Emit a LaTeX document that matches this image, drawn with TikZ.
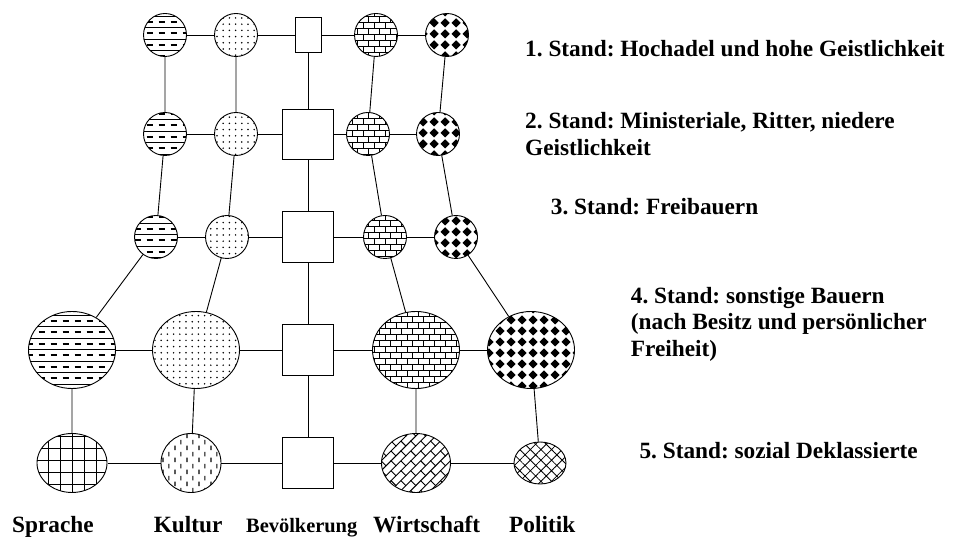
\documentclass[tikz,border=0pt]{standalone}
\usepackage{fontspec}
\setmainfont{Liberation Serif}
\usetikzlibrary{shapes.geometric,patterns,patterns.meta}
\frenchspacing

\pgfdeclarepattern{
  name=sprachmuster, type=uncolored,
  bottom left={\pgfpoint{-1pt}{-1pt}}, top right={\pgfpoint{13pt}{12pt}},
  tile size={\pgfpoint{12pt}{11.5pt}},
  code={
    \pgfsetlinewidth{0.4pt}
    \pgfpathmoveto{\pgfpoint{-0.5pt}{0pt}}\pgfpathlineto{\pgfpoint{12.5pt}{0pt}}
    \pgfusepath{stroke}
    \pgfsetlinewidth{1.6pt}
    \pgfpathmoveto{\pgfpoint{2.5pt}{5.75pt}}\pgfpathlineto{\pgfpoint{8.5pt}{5.75pt}}
    \pgfusepath{stroke}
  }
}
\pgfdeclarepattern{
  name=ziegel, type=uncolored,
  bottom left={\pgfpoint{-1pt}{-1pt}}, top right={\pgfpoint{12pt}{13pt}},
  tile size={\pgfpoint{11pt}{12pt}},
  code={
    \pgfsetlinewidth{1pt}
    \pgfpathmoveto{\pgfpoint{-0.5pt}{0pt}}\pgfpathlineto{\pgfpoint{11.5pt}{0pt}}
    \pgfpathmoveto{\pgfpoint{-0.5pt}{6pt}}\pgfpathlineto{\pgfpoint{11.5pt}{6pt}}
    \pgfpathmoveto{\pgfpoint{0pt}{0pt}}\pgfpathlineto{\pgfpoint{0pt}{6pt}}
    \pgfpathmoveto{\pgfpoint{5.5pt}{6pt}}\pgfpathlineto{\pgfpoint{5.5pt}{12pt}}
    \pgfusepath{stroke}
  }
}
\pgfdeclarepattern{
  name=ziegelschraeg, type=uncolored,
  bottom left={\pgfpoint{-1pt}{-1pt}}, top right={\pgfpoint{15pt}{15pt}},
  tile size={\pgfpoint{14pt}{14pt}},
  tile transformation={\pgftransformrotate{45}},
  code={
    \pgfsetlinewidth{0.9pt}
    \pgfpathmoveto{\pgfpoint{-0.5pt}{0pt}}\pgfpathlineto{\pgfpoint{14.5pt}{0pt}}
    \pgfpathmoveto{\pgfpoint{-0.5pt}{7pt}}\pgfpathlineto{\pgfpoint{14.5pt}{7pt}}
    \pgfpathmoveto{\pgfpoint{0pt}{0pt}}\pgfpathlineto{\pgfpoint{0pt}{7pt}}
    \pgfpathmoveto{\pgfpoint{7pt}{7pt}}\pgfpathlineto{\pgfpoint{7pt}{14pt}}
    \pgfusepath{stroke}
  }
}
\pgfdeclarepattern{
  name=rauten, type=uncolored,
  bottom left={\pgfpoint{0pt}{0pt}}, top right={\pgfpoint{11pt}{11pt}},
  tile size={\pgfpoint{11pt}{11pt}},
  code={
    \pgfpathmoveto{\pgfpoint{5.5pt}{0.6pt}}
    \pgfpathlineto{\pgfpoint{10.4pt}{5.5pt}}
    \pgfpathlineto{\pgfpoint{5.5pt}{10.4pt}}
    \pgfpathlineto{\pgfpoint{0.6pt}{5.5pt}}
    \pgfpathclose
    \pgfusepath{fill}
  }
}
\pgfdeclarepattern{
  name=striche, type=uncolored,
  bottom left={\pgfpoint{0pt}{0pt}}, top right={\pgfpoint{12.4pt}{11.6pt}},
  tile size={\pgfpoint{12.4pt}{11.6pt}},
  code={
    \pgfsetlinewidth{1.1pt}
    \pgfpathmoveto{\pgfpoint{3.1pt}{1pt}}\pgfpathlineto{\pgfpoint{3.1pt}{5.6pt}}
    \pgfpathmoveto{\pgfpoint{9.3pt}{6.8pt}}\pgfpathlineto{\pgfpoint{9.3pt}{11.4pt}}
    \pgfusepath{stroke}
  }
}

\begin{document}
\begin{tikzpicture}[x=1pt,y=1pt,
  feld/.style={draw,line width=0.9pt,ellipse,inner sep=0pt},
  kasten/.style={draw,line width=0.9pt,rectangle,inner sep=0pt},
  klein/.style={minimum width=43pt,minimum height=43pt},
  gross/.style={minimum width=87pt,minimum height=77pt},
  spr/.style={feld,pattern=sprachmuster},
  kul/.style={feld,pattern={Dots[radius=0.85pt,distance=6.2pt]}},
  wir/.style={feld,pattern=ziegel},
  pol/.style={feld,pattern=rauten},
  linie/.style={line width=0.9pt},
  stand/.style={anchor=base west,align=left,inner sep=0pt,font=\bfseries\fontsize{23.3}{26.7}\selectfont},
  spalte/.style={anchor=base west,inner sep=0pt,font=\bfseries\fontsize{23.3}{26}\selectfont}]

\useasboundingbox (0,0) rectangle (955,545);

\node[spr,klein] (spr1) at (165,510) {};
\node[kul,klein] (kul1) at (236,510) {};
\node[kasten,minimum width=26pt,minimum height=35pt] (bev1) at (308,510) {};
\node[wir,klein] (wir1) at (376,510) {};
\node[pol,klein] (pol1) at (447,510) {};

\node[spr,klein] (spr2) at (165,411) {};
\node[kul,klein] (kul2) at (236,411) {};
\node[kasten,minimum width=51pt,minimum height=50pt] (bev2) at (308,411) {};
\node[wir,klein] (wir2) at (368,411) {};
\node[pol,klein] (pol2) at (438,411) {};

\node[spr,klein] (spr3) at (156,308) {};
\node[kul,klein] (kul3) at (227,308) {};
\node[kasten,minimum width=51pt,minimum height=51pt] (bev3) at (308,308) {};
\node[wir,klein] (wir3) at (385,308) {};
\node[pol,klein] (pol3) at (456,308) {};

\node[spr,gross] (spr4) at (72,195) {};
\node[kul,gross] (kul4) at (196,195) {};
\node[kasten,minimum width=51pt,minimum height=51pt] (bev4) at (308,195) {};
\node[wir,gross] (wir4) at (416,195) {};
\node[pol,gross] (pol4) at (531,195) {};

\node[feld,pattern={Hatch[angle=0,distance=12pt,line width=1pt]},minimum width=70pt,minimum height=59pt] (spr5) at (72,82) {};
\node[feld,pattern=striche,minimum width=60pt,minimum height=59pt] (kul5) at (191,82) {};
\node[kasten,minimum width=51pt,minimum height=51pt] (bev5) at (308,82) {};
\node[feld,pattern=ziegelschraeg,minimum width=69pt,minimum height=59pt] (wir5) at (416,82) {};
\node[feld,pattern={Hatch[angle=45,distance=7.5pt,line width=0.8pt]},minimum width=52pt,minimum height=42pt] (pol5) at (540,82) {};

\draw[linie] (spr1) -- (kul1) -- (bev1) -- (wir1) -- (pol1);
\draw[linie] (spr2) -- (kul2) -- (bev2) -- (wir2) -- (pol2);
\draw[linie] (spr3) -- (kul3) -- (bev3) -- (wir3) -- (pol3);
\draw[linie] (spr4) -- (kul4) -- (bev4) -- (wir4) -- (pol4);
\draw[linie] (spr5) -- (kul5) -- (bev5) -- (wir5) -- (pol5);
\draw[linie] (spr1) -- (spr2) -- (spr3) -- (spr4) -- (spr5);
\draw[linie] (kul1) -- (kul2) -- (kul3) -- (kul4) -- (kul5);
\draw[linie] (bev1) -- (bev2) -- (bev3) -- (bev4) -- (bev5);
\draw[linie] (wir1) -- (wir2) -- (wir3) -- (wir4) -- (wir5);
\draw[linie] (pol1) -- (pol2) -- (pol3) -- (pol4) -- (pol5);

\node[stand] (stand1) at (525,488.3) {1. Stand: Hochadel und hohe Geistlichkeit};
\node[stand] (stand2) at (525,389.3) {2. Stand: Ministeriale, Ritter, niedere\\Geistlichkeit};
\node[stand] (stand3) at (550.7,330.7) {3. Stand: Freibauern};
\node[stand] (stand4) at (630.7,188.3) {4. Stand: sonstige Bauern\\(nach Besitz und persönlicher\\Freiheit)};
\node[stand] (stand5) at (639.3,86.7) {5. Stand: sozial Deklassierte};

\node[spalte] (lspr) at (12,12) {Sprache};
\node[spalte] (lkul) at (153.6,12) {Kultur};
\node[spalte,font=\bfseries\fontsize{20.4}{24}\selectfont] (lbev) at (246,12) {Bevölkerung};
\node[spalte] (lwir) at (373,12) {Wirtschaft};
\node[spalte] (lpol) at (509,12) {Politik};

\end{tikzpicture}
\end{document}
